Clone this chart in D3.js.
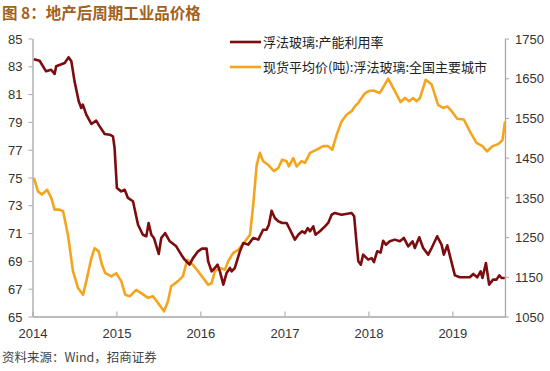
<!DOCTYPE html>
<html>
<head>
<meta charset="utf-8">
<script src="https://cdn.jsdelivr.net/npm/d3@7"></script>
<style>
  body { margin: 0; background: #fff; }
  text { font-family: "Liberation Sans", Arial, "Noto Sans CJK SC", sans-serif; }
  .cjk { font-family: "Noto Sans CJK SC", sans-serif; }
</style>
</head>
<body>
<svg id="chart" width="550" height="371"></svg>
<script>
// 浮法玻璃:产能利用率 (left axis, %)
const utilDates = ["2014-01-07","2014-02-01","2014-03-01","2014-03-23","2014-04-07","2014-04-14","2014-05-21","2014-06-07","2014-06-19","2014-07-03","2014-07-21","2014-08-01","2014-08-08","2014-08-23","2014-09-14","2014-10-05","2014-10-20","2014-11-11","2014-12-03","2014-12-17","2014-12-24","2015-01-03","2015-01-22","2015-02-06","2015-02-20","2015-03-14","2015-04-05","2015-04-26","2015-05-11","2015-05-21","2015-06-02","2015-06-13","2015-07-04","2015-07-15","2015-08-01","2015-08-21","2015-09-18","2015-10-10","2015-10-25","2015-11-15","2015-11-30","2015-12-22","2016-01-08","2016-01-28","2016-02-04","2016-02-19","2016-03-04","2016-03-16","2016-03-26","2016-04-10","2016-04-24","2016-05-09","2016-05-16","2016-05-30","2016-06-21","2016-07-06","2016-07-27","2016-08-18","2016-09-09","2016-09-30","2016-10-15","2016-10-25","2016-11-06","2016-11-20","2016-12-05","2016-12-22","2017-01-10","2017-01-25","2017-02-15","2017-03-02","2017-03-19","2017-03-31","2017-04-12","2017-04-22","2017-05-06","2017-05-16","2017-06-04","2017-06-26","2017-07-10","2017-07-25","2017-08-08","2017-09-06","2017-10-20","2017-10-31","2017-11-11","2017-11-18","2017-11-29","2017-12-09","2017-12-31","2018-01-15","2018-01-25","2018-02-08","2018-02-23","2018-03-06","2018-03-18","2018-04-04","2018-04-26","2018-05-18","2018-06-04","2018-06-23","2018-07-12","2018-07-22","2018-08-10","2018-08-27","2018-09-18","2018-10-03","2018-10-27","2018-11-15","2018-11-25","2018-12-10","2018-12-24","2019-01-12","2019-02-03","2019-03-18","2019-04-02","2019-04-19","2019-05-04","2019-05-12","2019-05-27","2019-06-10","2019-06-27","2019-07-12","2019-07-24","2019-08-03","2019-08-17"];
const utilValues = [83.5,83.4,82.64,82.75,82.45,83.0,83.24,83.65,83.36,81.9,80.48,80.0,80.24,79.52,78.85,79.09,78.68,78.13,78.08,77.96,77.12,74.24,74.0,74.12,73.53,73.29,71.6,70.88,70.77,71.73,70.88,70.65,69.5,70.65,71.0,70.41,70.05,69.45,69.09,68.73,69.2,69.69,69.88,69.88,68.97,68.25,68.49,68.73,68.25,67.29,68.13,68.49,68.25,68.49,69.69,70.29,70.17,70.65,70.53,71.24,71.24,71.6,72.61,72.09,71.85,71.73,71.73,71.24,70.53,70.88,71.13,71.0,71.36,71.13,71.48,70.88,71.13,71.48,71.73,72.32,72.45,72.32,72.45,72.21,70.17,68.97,68.73,69.45,69.09,69.2,68.92,69.69,69.6,70.45,70.17,70.41,70.53,70.41,70.65,70.05,70.41,69.93,70.7,69.93,69.45,69.93,70.77,70.17,69.45,70.12,69.2,67.96,67.82,67.82,68.06,67.82,68.25,67.77,68.85,67.29,67.65,67.65,67.96,67.77,67.77];

// 现货平均价(吨):浮法玻璃:全国主要城市 (right axis, 元/吨)
const priceDates = ["2014-01-07","2014-01-25","2014-02-11","2014-03-06","2014-03-24","2014-04-07","2014-04-29","2014-05-14","2014-06-04","2014-06-26","2014-07-18","2014-08-09","2014-08-23","2014-09-14","2014-09-28","2014-10-16","2014-10-30","2014-11-14","2014-12-10","2014-12-31","2015-01-22","2015-02-08","2015-02-28","2015-03-28","2015-04-19","2015-05-18","2015-06-09","2015-07-01","2015-07-27","2015-08-13","2015-08-27","2015-09-26","2015-10-17","2015-11-05","2015-11-30","2015-12-22","2016-01-08","2016-02-04","2016-02-19","2016-03-04","2016-03-26","2016-04-17","2016-05-01","2016-05-23","2016-06-14","2016-07-13","2016-08-04","2016-08-18","2016-09-02","2016-09-16","2016-09-30","2016-10-22","2016-11-16","2016-12-05","2016-12-22","2017-01-10","2017-01-20","2017-02-08","2017-02-23","2017-03-16","2017-03-31","2017-04-22","2017-05-21","2017-06-18","2017-07-10","2017-07-28","2017-08-16","2017-09-06","2017-09-28","2017-10-20","2017-11-03","2017-11-18","2017-12-02","2017-12-17","2018-01-03","2018-01-22","2018-02-20","2018-03-28","2018-04-19","2018-05-21","2018-06-09","2018-06-27","2018-07-15","2018-07-29","2018-08-13","2018-09-07","2018-10-03","2018-10-31","2018-11-22","2018-12-10","2018-12-29","2019-01-22","2019-02-20","2019-03-18","2019-04-16","2019-05-12","2019-06-01","2019-06-25","2019-07-19","2019-08-07","2019-08-13","2019-08-18"];
const priceValues = [1399,1365,1357,1369,1348,1319,1319,1315,1256,1164,1122,1105,1139,1197,1222,1214,1180,1159,1151,1159,1139,1105,1101,1117,1109,1097,1101,1084,1063,1088,1126,1139,1151,1193,1180,1164,1151,1130,1134,1164,1172,1168,1189,1210,1218,1239,1256,1331,1432,1462,1441,1432,1416,1424,1445,1441,1428,1449,1428,1441,1437,1462,1470,1479,1479,1470,1508,1541,1558,1567,1579,1588,1600,1612,1618,1619,1613,1649,1625,1590,1600,1592,1600,1592,1600,1646,1634,1583,1575,1579,1567,1548,1546,1516,1487,1479,1466,1479,1484,1494,1520,1541];

const leftTicks = [65, 67, 69, 71, 73, 75, 77, 79, 81, 83, 85];
const rightTicks = [1050, 1150, 1250, 1350, 1450, 1550, 1650, 1750];
const yearTicks = ["2014", "2015", "2016", "2017", "2018", "2019"];
const seriesNames = ["浮法玻璃:产能利用率", "现货平均价(吨):浮法玻璃:全国主要城市"];
const colors = ["#7d0c0e", "#f5a51d"];

const parse = d3.timeParse("%Y-%m-%d");
const utilData = utilDates.map((d, i) => ({ date: parse(d), value: utilValues[i] }));
const priceData = priceDates.map((d, i) => ({ date: parse(d), value: priceValues[i] }));

const svg = d3.select("#chart");
const plotL = 32.5, plotR = 505, plotT = 38.5, plotB = 316.5;

const x = d3.scaleTime()
  .domain([parse("2014-01-01"), parse("2019-08-18")])
  .range([plotL, plotR]);
const yL = d3.scaleLinear().domain([65, 85]).range([plotB, plotT]);
const yR = d3.scaleLinear().domain([1050, 1750]).range([plotB, plotT]);

// title
svg.append("text")
  .attr("class", "cjk")
  .attr("x", 2).attr("y", 19)
  .attr("font-size", 15.5).attr("font-weight", "bold")
  .attr("fill", "#a2611c")
  .text("图 8：地产后周期工业品价格");

// axes
const axisColor = "#a6a6a6";
const gL = svg.append("g").attr("transform", `translate(${plotL},0)`)
  .call(d3.axisLeft(yL).tickValues(leftTicks).tickFormat(d3.format("d"))
    .tickSize(4).tickSizeOuter(0));
const gR = svg.append("g").attr("transform", `translate(${plotR},0)`)
  .call(d3.axisRight(yR).tickValues(rightTicks).tickFormat(d3.format("d"))
    .tickSize(4).tickSizeOuter(0));
const gX = svg.append("g").attr("transform", `translate(0,${plotB})`)
  .call(d3.axisBottom(x)
    .tickValues(yearTicks.map(y => parse(y + "-01-01")))
    .tickFormat(d3.timeFormat("%Y"))
    .tickSize(-5).tickSizeOuter(0));

[gL, gR, gX].forEach(g => {
  g.select(".domain").attr("stroke", axisColor).attr("stroke-width", 1.3);
  g.selectAll(".tick line").attr("stroke", axisColor);
  g.selectAll(".tick text")
    .attr("font-size", 13)
    .attr("fill", "#333")
    .style("font-family", "'Liberation Sans', Arial, sans-serif");
});
gL.selectAll(".tick text").attr("x", -10).attr("dy", "0.36em");
gR.selectAll(".tick text").attr("x", 10).attr("dy", "0.36em");
gX.selectAll(".tick text").attr("y", 10).attr("dy", "0.85em");

// lines
const lineL = d3.line().x(d => x(d.date)).y(d => yL(d.value));
const lineR = d3.line().x(d => x(d.date)).y(d => yR(d.value));

svg.append("path")
  .datum(priceData)
  .attr("fill", "none")
  .attr("stroke", colors[1])
  .attr("stroke-width", 2.6)
  .attr("stroke-linejoin", "round")
  .attr("d", lineR);

svg.append("path")
  .datum(utilData)
  .attr("fill", "none")
  .attr("stroke", colors[0])
  .attr("stroke-width", 2.6)
  .attr("stroke-linejoin", "round")
  .attr("d", lineL);

// legend
const legend = svg.append("g").attr("transform", "translate(230,42)");
seriesNames.forEach((name, i) => {
  const row = legend.append("g").attr("transform", `translate(0,${i * 25})`);
  row.append("line")
    .attr("x1", 0).attr("x2", 31).attr("y1", 0).attr("y2", 0)
    .attr("stroke", colors[i]).attr("stroke-width", 2.6);
  row.append("text")
    .attr("class", "cjk")
    .attr("x", 33).attr("y", 0).attr("dy", "0.36em")
    .attr("font-size", 13).attr("fill", "#222")
    .text(name);
});

// source
svg.append("text")
  .attr("class", "cjk")
  .attr("x", 2).attr("y", 362)
  .attr("font-size", 12.5).attr("fill", "#444")
  .text("资料来源：Wind，招商证券");
</script>
</body>
</html>
